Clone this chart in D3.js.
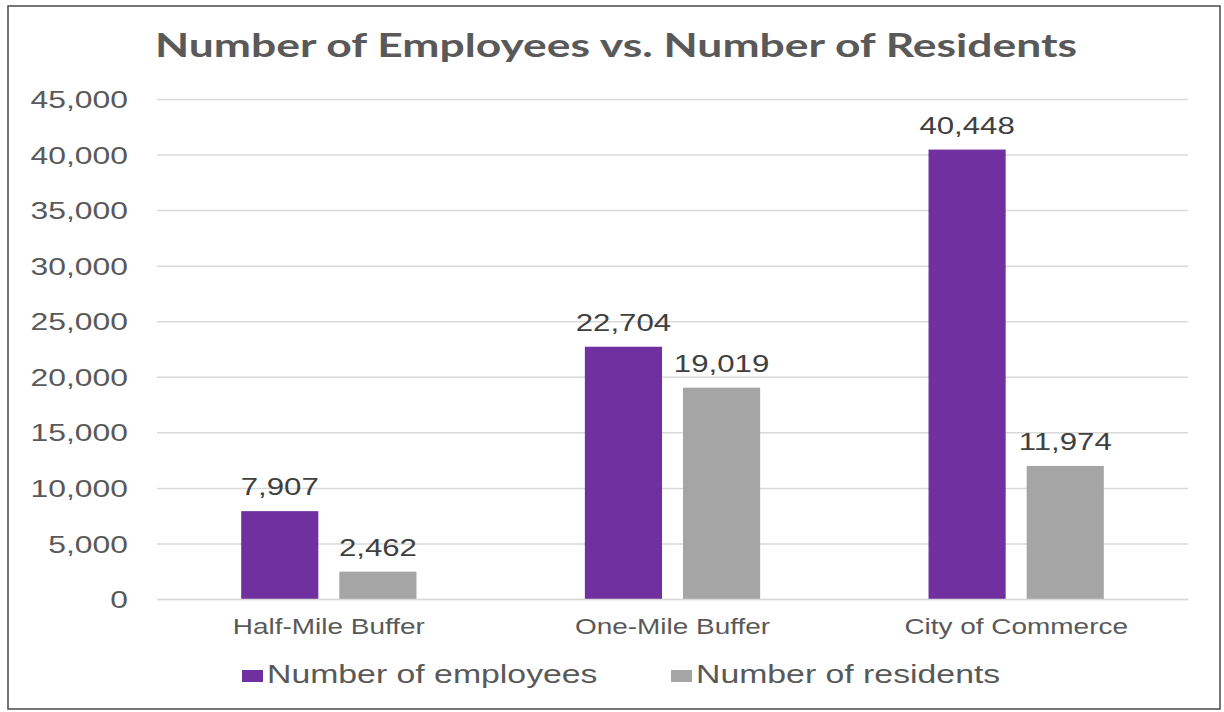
<!DOCTYPE html>
<html>
<head>
<meta charset="utf-8">
<script src="https://cdn.jsdelivr.net/npm/d3@7"></script>
<style>
  html, body { margin: 0; padding: 0; background: #fff; }
  svg { display: block; }
</style>
</head>
<body>
<svg id="chart" width="1224" height="712"></svg>
<script>
// Chart data
const categories = ["Half-Mile Buffer", "One-Mile Buffer", "City of Commerce"];
const seriesNames = ["Number of employees", "Number of residents"];
const employees = [7907, 22704, 40448];
const residents = [2462, 19019, 11974];
const yTicks = [0, 5000, 10000, 15000, 20000, 25000, 30000, 35000, 40000, 45000];
const seriesColors = ["#7030a0", "#a5a5a5"];
const titleText = "Number of Employees vs. Number of Residents";

const values = [employees, residents];
const rows = categories.map((c, i) => ({
  category: c,
  items: seriesNames.map((s, j) => ({ series: s, value: values[j][i], color: seriesColors[j] }))
}));

const svg = d3.select("#chart");
const W = 1224, H = 712;
const margin = { left: 157, right: 36, top: 99, bottom: 113 };
const plotW = W - margin.left - margin.right;
const plotH = H - margin.top - margin.bottom;
const SX = 1.3;                 // horizontal stretch applied to all labels
const fmt = d3.format(",");
const FONT = "'Liberation Sans', Arial, sans-serif";

// outer frame
svg.append("rect")
  .attr("x", 8).attr("y", 6).attr("width", 1212).attr("height", 703)
  .attr("fill", "#fff").attr("stroke", "#4a4a4a").attr("stroke-width", 1.5);

// title
svg.append("text")
  .attr("x", 616).attr("y", 57)
  .attr("text-anchor", "middle")
  .attr("font-family", "'Lato', 'Open Sans', sans-serif")
  .attr("font-weight", 700)
  .attr("font-size", 32)
  .attr("textLength", 922)
  .attr("lengthAdjust", "spacingAndGlyphs")
  .attr("fill", "#595959")
  .text(titleText);

const g = svg.append("g").attr("transform", `translate(${margin.left},${margin.top})`);

const y = d3.scaleLinear().domain([0, 45000]).range([plotH, 0]);
const x0 = d3.scaleBand().domain(categories).range([0, plotW]).paddingInner(0.49).paddingOuter(0.245);
const x1 = d3.scaleBand().domain(seriesNames).range([0, x0.bandwidth()]).paddingInner(0.214).paddingOuter(0);

// gridlines and value axis
const yAxis = d3.axisLeft(y).tickValues(yTicks).tickSize(-plotW).tickFormat(fmt);
const ya = g.append("g").call(yAxis);
ya.select(".domain").remove();
ya.selectAll(".tick line").attr("stroke", "#d9d9d9").attr("stroke-width", 1.5);
ya.selectAll(".tick text")
  .attr("x", 0).attr("dy", "0.35em")
  .attr("transform", `translate(-29,0) scale(${SX},1)`)
  .attr("font-family", FONT)
  .attr("font-size", 24.5).attr("fill", "#595959");

// bars
const groups = g.selectAll(".grp").data(rows).enter().append("g")
  .attr("transform", d => `translate(${x0(d.category)},0)`);

groups.selectAll("rect").data(d => d.items).enter().append("rect")
  .attr("x", d => x1(d.series))
  .attr("width", x1.bandwidth())
  .attr("y", d => y(d.value))
  .attr("height", d => plotH - y(d.value))
  .attr("fill", d => d.color);

// value labels above bars
groups.selectAll(".val").data(d => d.items).enter().append("text")
  .attr("transform", d => `translate(${x1(d.series) + x1.bandwidth() / 2},${y(d.value) - 16}) scale(${SX},1)`)
  .attr("text-anchor", "middle")
  .attr("font-family", FONT)
  .attr("font-size", 24).attr("fill", "#404040")
  .text(d => fmt(d.value));

// category axis
const xAxis = d3.axisBottom(x0).tickSize(0);
const xa = g.append("g").attr("transform", `translate(0,${plotH})`).call(xAxis);
xa.select(".domain").attr("stroke", "#d9d9d9").attr("stroke-width", 1.5);
xa.selectAll(".tick text")
  .attr("y", 0).attr("dy", 0)
  .attr("transform", `translate(0,35) scale(${SX},1)`)
  .attr("font-family", FONT)
  .attr("font-size", 21.5).attr("fill", "#595959");

// legend
const legendX = [242, 671];
const lg = svg.selectAll(".leg").data(seriesNames).enter().append("g")
  .attr("transform", (d, i) => `translate(${legendX[i]},683)`);
lg.append("rect").attr("x", 0).attr("y", -13).attr("width", 21).attr("height", 12)
  .attr("fill", (d, i) => seriesColors[i]);
lg.append("text")
  .attr("transform", `translate(25,0) scale(${SX},1)`)
  .attr("font-family", FONT)
  .attr("font-size", 26).attr("fill", "#595959")
  .text(d => d);
</script>
</body>
</html>
